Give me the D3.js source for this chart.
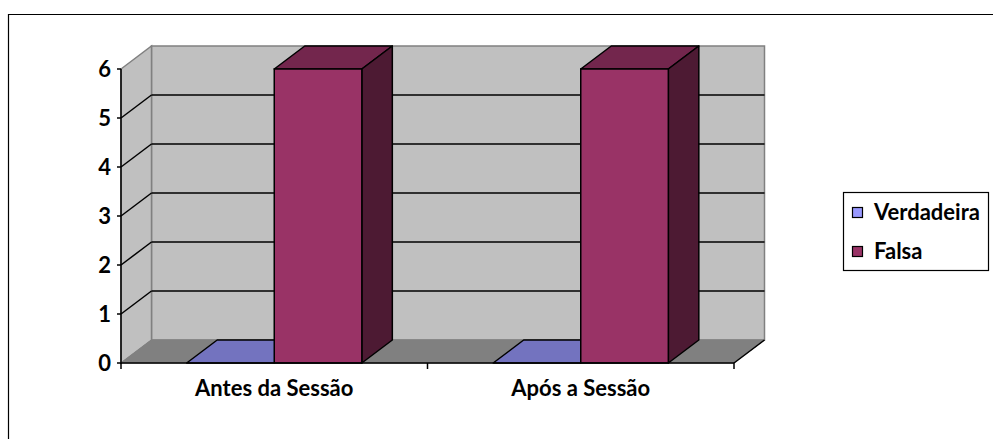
<!DOCTYPE html>
<html>
<head>
<meta charset="utf-8">
<script src="https://cdn.jsdelivr.net/npm/d3@7/dist/d3.min.js"></script>
<style>
  html, body { margin: 0; padding: 0; background: #fff; }
  svg { display: block; }
  text { font-family: Lato, "Open Sans", sans-serif; font-weight: bold; fill: #000; }
</style>
</head>
<body>
<svg id="chart" width="993" height="439"></svg>
<script>
// Data
const categories = ["Antes da Sessão", "Após a Sessão"];
const seriesNames = ["Verdadeira", "Falsa"];
const verdadeira = [0, 0];
const falsa = [6, 6];
const yTickValues = [0, 1, 2, 3, 4, 5, 6];
const seriesColors = ["#9999ff", "#993366"];

const svg = d3.select("#chart");
const fontSize = 22;

// Front plane of the 3D plot, plus the depth offset to the back wall
const plot = { left: 121, right: 734, top: 69, bottom: 363 };
const depth = { dx: 30.5, dy: -23 };

const x = d3.scaleBand().domain(categories).range([plot.left, plot.right]);
const xs = d3.scaleBand().domain(seriesNames).range([0, x.bandwidth()])
  .paddingInner(0).paddingOuter(0.75);
const y = d3.scaleLinear().domain([0, 6]).range([plot.bottom, plot.top]);

const shade = (c, k) => { const o = d3.rgb(c); return d3.rgb(o.r * k, o.g * k, o.b * k).formatHex(); };
const poly = pts => "M" + pts.map(p => p.join(",")).join("L") + "Z";

// Outer frame (open on the right and bottom)
svg.append("path")
  .attr("d", "M8.5,440V14.5H994")
  .attr("fill", "none").attr("stroke", "#000").attr("stroke-width", 1.2);

const g = svg.append("g");

const y0 = y(0), y6 = y(6);
const L = plot.left, R = plot.right, dx = depth.dx, dy = depth.dy;

// Back wall
g.append("path")
  .attr("d", poly([[L + dx, y6 + dy], [R + dx, y6 + dy], [R + dx, y0 + dy], [L + dx, y0 + dy]]))
  .attr("fill", "#c0c0c0").attr("stroke", "#808080").attr("stroke-width", 1.5);

// Side wall
g.append("path")
  .attr("d", poly([[L, y6], [L + dx, y6 + dy], [L + dx, y0 + dy], [L, y0]]))
  .attr("fill", "#c0c0c0").attr("stroke", "#808080").attr("stroke-width", 1.5);

// Floor
g.append("path")
  .attr("d", poly([[L, y0], [L + dx, y0 + dy], [R + dx, y0 + dy], [R, y0]]))
  .attr("fill", "#808080").attr("stroke", "#808080").attr("stroke-width", 1);
g.append("line")
  .attr("x1", R).attr("y1", y0).attr("x2", R + dx).attr("y2", y0 + dy)
  .attr("stroke", "#000").attr("stroke-width", 1.5);

// Gridlines on the back and side walls
const gridVals = yTickValues.filter(v => v > 0 && v < 6);
g.selectAll(".grid-back").data(gridVals).join("line")
  .attr("x1", L + dx).attr("x2", R + dx)
  .attr("y1", d => y(d) + dy).attr("y2", d => y(d) + dy)
  .attr("stroke", "#000").attr("stroke-width", 1.5);
g.selectAll(".grid-side").data(gridVals).join("line")
  .attr("x1", L).attr("x2", L + dx)
  .attr("y1", d => y(d)).attr("y2", d => y(d) + dy)
  .attr("stroke", "#000").attr("stroke-width", 1.5);

// Bars
const values = [verdadeira, falsa];
const bars = [];
categories.forEach((c, ci) => {
  seriesNames.forEach((s, si) => {
    bars.push({ x0: x(c) + xs(s), x1: x(c) + xs(s) + xs.bandwidth(), v: values[si][ci], color: seriesColors[si] });
  });
});

const barG = g.selectAll(".bar").data(bars).join("g");
barG.each(function (d) {
  const b = d3.select(this);
  const yt = y(d.v);
  // top face
  b.append("path")
    .attr("d", poly([[d.x0, yt], [d.x0 + dx, yt + dy], [d.x1 + dx, yt + dy], [d.x1, yt]]))
    .attr("fill", shade(d.color, 0.75)).attr("stroke", "#000").attr("stroke-width", 1.5)
    .attr("stroke-linejoin", "round");
  if (d.v > 0) {
    // right side face
    b.append("path")
      .attr("d", poly([[d.x1, yt], [d.x1 + dx, yt + dy], [d.x1 + dx, y0 + dy], [d.x1, y0]]))
      .attr("fill", shade(d.color, 0.5)).attr("stroke", "#000").attr("stroke-width", 1.5)
      .attr("stroke-linejoin", "round");
    // front face
    b.append("rect")
      .attr("x", d.x0).attr("y", yt).attr("width", d.x1 - d.x0).attr("height", y0 - yt)
      .attr("fill", d.color).attr("stroke", "#000").attr("stroke-width", 1.5);
  }
});

// Value axis
const yAxis = svg.append("g");
yAxis.append("line").attr("x1", L).attr("x2", L).attr("y1", y6).attr("y2", y0 + 1)
  .attr("stroke", "#000").attr("stroke-width", 1.5);
yAxis.selectAll(".tick").data(yTickValues).join("line")
  .attr("x1", L - 4).attr("x2", L).attr("y1", d => y(d)).attr("y2", d => y(d))
  .attr("stroke", "#000").attr("stroke-width", 1.5);
yAxis.selectAll(".lbl").data(yTickValues).join("text")
  .attr("x", 111).attr("y", d => y(d)).attr("dy", "0.36em")
  .attr("text-anchor", "end").attr("font-size", fontSize)
  .text(d => d);

// Category axis
const xAxis = svg.append("g");
xAxis.append("line").attr("x1", L).attr("x2", R).attr("y1", y0).attr("y2", y0)
  .attr("stroke", "#000").attr("stroke-width", 1.5);
const catTicks = [L].concat(categories.map(c => x(c) + x.bandwidth()));
xAxis.selectAll(".tick").data(catTicks).join("line")
  .attr("x1", d => d).attr("x2", d => d).attr("y1", y0).attr("y2", y0 + 6)
  .attr("stroke", "#000").attr("stroke-width", 1.5);
xAxis.selectAll(".lbl").data(categories).join("text")
  .attr("x", d => x(d) + x.bandwidth() / 2).attr("y", 396)
  .attr("text-anchor", "middle").attr("font-size", fontSize)
  .text(d => d);

// Legend
const legend = svg.append("g");
legend.append("rect").attr("x", 843.5).attr("y", 192.5).attr("width", 145).attr("height", 78)
  .attr("fill", "#fff").attr("stroke", "#000").attr("stroke-width", 1.2);
const li = legend.selectAll(".item").data(seriesNames).join("g")
  .attr("transform", (d, i) => `translate(0,${i * 39})`);
li.append("rect").attr("x", 852.5).attr("y", 207.5).attr("width", 10).attr("height", 10)
  .attr("fill", (d, i) => seriesColors[i]).attr("stroke", "#000").attr("stroke-width", 1.2);
li.append("text").attr("x", 874).attr("y", 220).attr("font-size", fontSize).text(d => d);
</script>
</body>
</html>
